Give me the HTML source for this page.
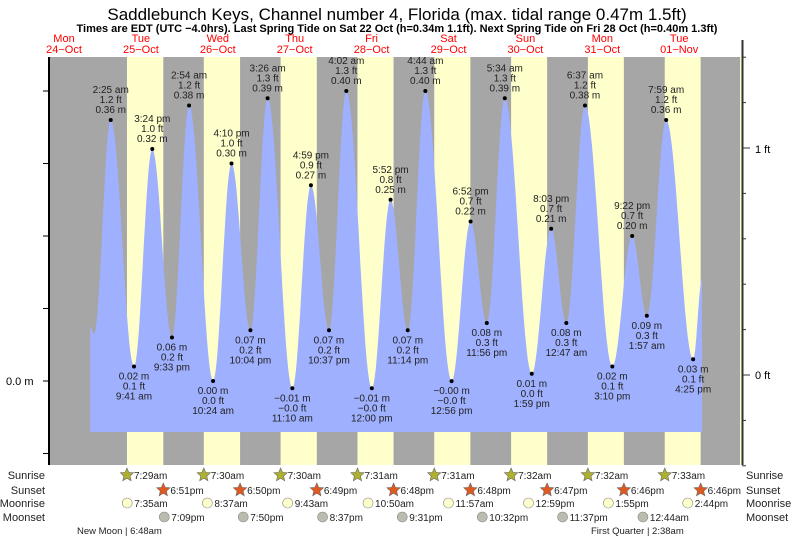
<!DOCTYPE html><html><head><meta charset="utf-8"><style>
body{margin:0;background:#fff;width:793px;height:539px;overflow:hidden}
svg{display:block;font-family:"Liberation Sans",sans-serif}
</style></head><body>
<svg id="s" width="793" height="539" xmlns="http://www.w3.org/2000/svg"></svg>
<script>
const S=document.getElementById('s');let h='';
const X=(d,t)=>103+(d-25)*76.8+t*3.2;const Y=m=>381-m*725;
function tm(s){let[a,b]=s.split(' ');let[hh,mm]=a.split(':').map(Number);if(b=='pm'&&hh!=12)hh+=12;if(b=='am'&&hh==12)hh=0;return hh+mm/60;}
h+=`<text x="397" y="20" font-size="17" text-anchor="middle">Saddlebunch Keys, Channel number 4, Florida (max. tidal range 0.47m 1.5ft)</text>`;
h+=`<text x="397" y="32" font-size="11" font-weight="bold" text-anchor="middle">Times are EDT (UTC −4.0hrs). Last Spring Tide on Sat 22 Oct (h=0.34m 1.1ft). Next Spring Tide on Fri 28 Oct (h=0.40m 1.3ft)</text>`;
h+=`<rect x="49" y="57" width="693" height="408" fill="#ffffcc"/><rect x="49" y="57" width="691" height="408" fill="#a6a6a6"/>`;
const sun=[['7:29 am','6:51 pm'],['7:30 am','6:50 pm'],['7:30 am','6:49 pm'],['7:31 am','6:48 pm'],['7:31 am','6:48 pm'],['7:32 am','6:47 pm'],['7:32 am','6:46 pm'],['7:33 am','6:46 pm']];
sun.forEach((s,i)=>{let a=X(25+i,tm(s[0])),b=X(25+i,tm(s[1]));h+=`<rect x="${a}" y="57" width="${b-a}" height="408" fill="#ffffcc"/>`;});
const T=[[24,20,0.075],[24,21.2,0.065],
[25,'2:25 am',.36,1.2],[25,'9:41 am',.02,.1],[25,'3:24 pm',.32,1.0],[25,'9:33 pm',.06,.2],
[26,'2:54 am',.38,1.2],[26,'10:24 am',0,0],[26,'4:10 pm',.30,1.0],[26,'10:04 pm',.07,.2],
[27,'3:26 am',.39,1.3],[27,'11:10 am',-.01,-0],[27,'4:59 pm',.27,.9],[27,'10:37 pm',.07,.2],
[28,'4:02 am',.40,1.3],[28,'12:00 pm',-.01,-0],[28,'5:52 pm',.25,.8],[28,'11:14 pm',.07,.2],
[29,'4:44 am',.40,1.3],[29,'12:56 pm',-0.0001,-0],[29,'6:52 pm',.22,.7],[29,'11:56 pm',.08,.3],
[30,'5:34 am',.39,1.3],[30,'1:59 pm',.01,0],[30,'8:03 pm',.21,.7],
[31,'12:47 am',.08,.3],[31,'6:37 am',.38,1.2],[31,'3:10 pm',.02,.1],[31,'9:22 pm',.20,.7],
[32,'1:57 am',.09,.3],[32,'7:59 am',.36,1.2],[32,'4:25 pm',.03,.1],[32,19.2,0.14]];
const P=T.map(t=>({x:X(t[0],typeof t[1]=='number'?t[1]:tm(t[1])),y:Y(t[2]),t}));
let d=`M${P[0].x},432 L${P[0].x},${P[0].y}`;
for(let i=0;i<P.length-1;i++){let a=P[i],b=P[i+1];for(let k=1;k<=20;k++){let f=k/20;let x=a.x+(b.x-a.x)*f;let y=a.y+(b.y-a.y)*(1-Math.cos(Math.PI*f))/2;d+=` L${x.toFixed(1)},${y.toFixed(1)}`;}}
d+=` L${P[P.length-1].x},432 Z`;
h+=`<path d="${d}" fill="#9fb0ff"/>`;
P.forEach((p,i)=>{if(i<2||i==P.length-1)return;let t=p.t,hi=i%2==0;let m=(t[2]<0?'−':'')+Math.abs(t[2]).toFixed(2)+' m';let ft=((t[3]<0||Object.is(t[3],-0))?'−':'')+Math.abs(t[3]).toFixed(1)+' ft';
h+=`<circle cx="${p.x}" cy="${p.y}" r="2" fill="#000"/>`;
let L=hi?[t[1],ft,m]:[m,ft,t[1]];let y0=hi?p.y-27:p.y+13;
L.forEach((s,j)=>h+=`<text x="${p.x}" y="${y0+j*10}" font-size="10" text-anchor="middle" fill="#222">${s}</text>`);});
h+=`<rect x="48" y="57" width="2" height="408" fill="#000"/><rect x="741.5" y="40" width="2" height="425" fill="#333"/>`;
[91,163.5,236,308.5,381,453.5].forEach(y=>h+=`<line x1="43" x2="49" y1="${y}" y2="${y}" stroke="#000"/>`);
h+=`<text x="6" y="385" font-size="11">0.0 m</text>`;
for(let k=-2;k<8;k++){let y=375-k*45.4;let L=(k==0||k==5)?750:746;h+=`<line x1="742" x2="${L}" y1="${y}" y2="${y}" stroke="#333"/>`;}
h+=`<text x="755" y="379" font-size="11">0 ft</text><text x="755" y="153" font-size="11">1 ft</text>`;
const days=[['Mon','24−Oct'],['Tue','25−Oct'],['Wed','26−Oct'],['Thu','27−Oct'],['Fri','28−Oct'],['Sat','29−Oct'],['Sun','30−Oct'],['Mon','31−Oct'],['Tue','01−Nov']];
days.forEach((dd,i)=>{let x=64+i*76.9;h+=`<text x="${x}" y="42" font-size="11" fill="#f00" text-anchor="middle">${dd[0]}</text><text x="${x}" y="53" font-size="11" fill="#f00" text-anchor="middle">${dd[1]}</text>`;});
const rows=[['Sunrise',479],['Sunset',494],['Moonrise',507],['Moonset',521]];
rows.forEach(r=>{h+=`<text x="45" y="${r[1]}" font-size="11" text-anchor="end" fill="#222">${r[0]}</text><text x="746" y="${r[1]}" font-size="11" fill="#222">${r[0]}</text>`;});
function star(cx,cy,c){let p=[];for(let k=0;k<10;k++){let r=k%2?3.2:7;let a=-Math.PI/2+k*Math.PI/5;p.push((cx+r*Math.cos(a)).toFixed(1)+','+(cy+r*Math.sin(a)).toFixed(1));}return `<polygon points="${p.join(' ')}" fill="${c}" stroke="#666" stroke-width="0.6"/>`;}
sun.forEach((s,i)=>{let a=X(25+i,tm(s[0])),b=X(25+i,tm(s[1]));
h+=star(a,475,'#b0b030')+`<text x="${a+7}" y="479" font-size="10" fill="#222">${s[0].replace(' ','')}</text>`;
h+=star(b,490,'#e05a20')+`<text x="${b+7}" y="494" font-size="10" fill="#222">${s[1].replace(' ','')}</text>`;});
const mr=[[25,'7:35am',7.58],[26,'8:37am',8.62],[27,'9:43am',9.72],[28,'10:50am',10.83],[29,'11:57am',11.95],[30,'12:59pm',12.98],[31,'1:55pm',13.92],[32,'2:44pm',14.73]];
mr.forEach(m=>{let x=X(m[0],m[2]);h+=`<circle cx="${x}" cy="503" r="5" fill="#ffffcc" stroke="#888" stroke-width="0.6"/><text x="${x+7}" y="507" font-size="10" fill="#222">${m[1]}</text>`;});
const ms=[[25,'7:09pm',19.15],[26,'7:50pm',19.83],[27,'8:37pm',20.62],[28,'9:31pm',21.52],[29,'10:32pm',22.53],[30,'11:37pm',23.62],[32,'12:44am',0.73]];
ms.forEach(m=>{let x=X(m[0],m[2]);h+=`<circle cx="${x}" cy="517" r="5" fill="#bcbcae" stroke="#888" stroke-width="0.6"/><text x="${x+7}" y="521" font-size="10" fill="#222">${m[1]}</text>`;});
h+=`<text x="77" y="534" font-size="9.5" fill="#222">New Moon | 6:48am</text><text x="591" y="534" font-size="9.5" fill="#222">First Quarter | 2:38am</text>`;
S.innerHTML=h;
</script></body></html>
